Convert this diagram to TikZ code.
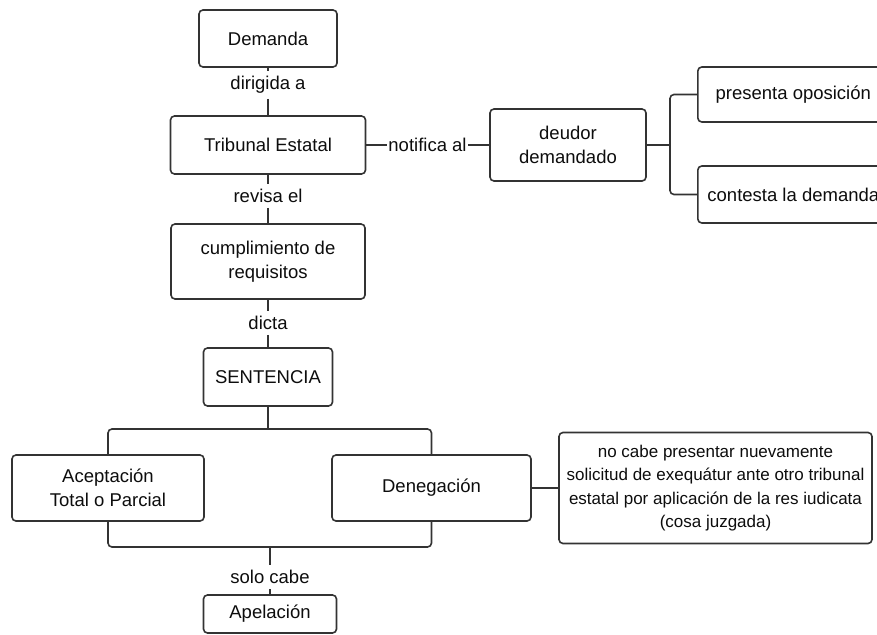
\documentclass[tikz,border=0pt]{standalone}
\usepackage{fontspec}
\setmainfont{Liberation Sans}
\begin{document}
\begin{tikzpicture}[x=1pt,y=-1pt,
  every node/.style={text=black!95},
  box/.style={draw=black!80, line width=1.6pt, rounded corners=4pt, fill=white,
    align=center, inner sep=0pt, font=\fontsize{18.5}{24.5}\selectfont},
  notebox/.style={box, font=\fontsize{17}{23.6}\selectfont},
  lbl/.style={inner xsep=1.5pt, inner ysep=5pt, font=\fontsize{18.5}{24}\selectfont},
  link/.style={draw=black!80, line width=1.6pt},
  fork/.style={link, rounded corners=4pt}]
\clip (0,0) rectangle (877,634);
\fill[white] (0,0) rectangle (877,634);

% main column
\node[box, minimum width=138pt, minimum height=57pt] (demanda) at (268,38.5) {Demanda};
\node[lbl] (dirigida) at (268,85) {dirigida a};
\node[box, minimum width=195pt, minimum height=58pt] (tribunal) at (268,145) {Tribunal Estatal};
\node[lbl] (revisa) at (268,196) {revisa el};
\node[box, minimum width=194pt, minimum height=75pt] (cumpl) at (268,261.5) {cumplimiento de\\requisitos};
\node[lbl] (dicta) at (268,323) {dicta};
\node[box, minimum width=129pt, minimum height=58pt] (sentencia) at (268,377) {SENTENCIA};

% outcomes of the judgement
\node[box, minimum width=192pt, minimum height=66pt] (acept) at (108,488) {Aceptación\\Total o Parcial};
\node[box, minimum width=199pt, minimum height=66pt] (deneg) at (431.5,488) {Denegación};
\node[notebox, minimum width=313pt, minimum height=111pt] (nota) at (715.5,488)
  {no cabe presentar nuevamente\\solicitud de exequátur ante otro tribunal\\estatal por aplicación de la res iudicata\\(cosa juzgada)};
\node[lbl] (solo) at (270,577) {solo cabe};
\node[box, minimum width=133pt, minimum height=38pt] (apel) at (270,614) {Apelación};

% notification branch
\node[lbl] (notif) at (427.5,145) {notifica al};
\node[box, minimum width=156pt, minimum height=72pt] (deudor) at (568,145) {deudor\\demandado};
\node[box, anchor=west, minimum width=191pt, minimum height=55pt] (presenta) at (697,94.5) {presenta oposición};
\node[box, anchor=west, minimum width=191pt, minimum height=57pt] (contesta) at (697,194.5) {contesta la demanda};

% junction points
\coordinate (j1) at (268,429);
\coordinate (j2) at (270,547);
\coordinate (j3) at (670,145);

% connectors
\draw[link] (demanda) -- (dirigida) -- (tribunal);
\draw[link] (tribunal) -- (revisa) -- (cumpl);
\draw[link] (cumpl) -- (dicta) -- (sentencia);
\draw[link] (tribunal) -- (notif) -- (deudor);
\draw[link] (sentencia.south) -- (j1);
\draw[fork] (acept.north) |- (j1) -| (deneg.north);
\draw[fork] (acept.south) |- (j2) -| (deneg.south);
\draw[link] (j2) -- (solo) -- (apel);
\draw[link] (deneg) -- (nota);
\draw[link] (deudor.east) -- (j3);
\draw[fork] (presenta.west) -| (j3) |- (contesta.west);
\end{tikzpicture}
\end{document}
